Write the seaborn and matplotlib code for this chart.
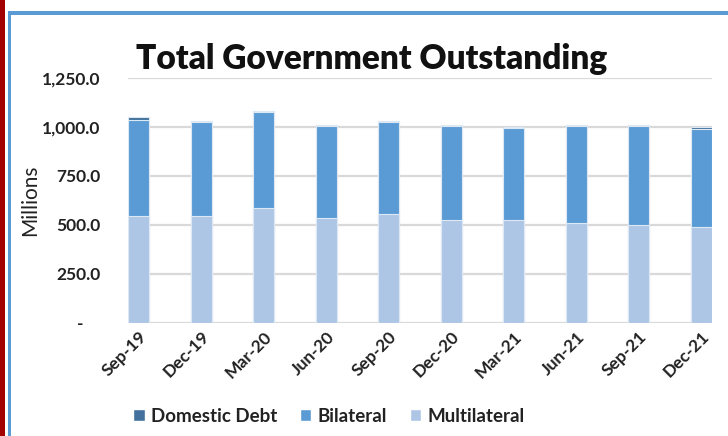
import matplotlib
matplotlib.use('Agg')
import numpy as np
import pandas as pd
import seaborn as sns
import matplotlib.pyplot as plt
from matplotlib.patches import Rectangle, Patch

# values (millions)
quarters = ['Sep-19', 'Dec-19', 'Mar-20', 'Jun-20', 'Sep-20',
            'Dec-20', 'Mar-21', 'Jun-21', 'Sep-21', 'Dec-21']
multilateral = [546, 546, 588, 534, 555, 526, 526, 512, 502, 491]
bilateral = [488, 479, 490, 469, 470, 480, 467, 495, 505, 501]
domestic = [18, 7, 5, 7, 7, 6, 5, 5, 5, 6]
yticks = [0, 250, 500, 750, 1000, 1250]

c_dom = '#41719C'
c_bil = '#5B9BD5'
c_mul = '#AEC6E6'

df = pd.DataFrame({'Quarter': quarters, 'Multilateral': multilateral,
                   'Bilateral': bilateral, 'Domestic Debt': domestic})
df['lvl_bil'] = df['Multilateral'] + df['Bilateral']
df['lvl_dom'] = df['lvl_bil'] + df['Domestic Debt']

sns.set_style('white')
plt.rcParams['font.family'] = ['Lato', 'DejaVu Sans']

fig = plt.figure(figsize=(7.28, 4.36), dpi=100)
ax = fig.add_axes([0.1758, 0.2592, 0.8022, 0.5619])

# stacked bars by overlaying cumulative totals
for col, color in [('lvl_dom', c_dom), ('lvl_bil', c_bil), ('Multilateral', c_mul)]:
    sns.barplot(data=df, x='Quarter', y=col, color=color, width=0.34, saturation=1,
                edgecolor='#DDE8F5', linewidth=0.8, ax=ax, zorder=3)

ax.set_xlim(-0.17, 9.17)
ax.set_ylim(0, 1250)
ax.set_yticks(yticks)
ax.set_yticklabels(['-    '] + [f'{v:,.1f}' for v in yticks[1:]],
                   fontsize=12.5, fontweight='bold', color='#222222')
ax.yaxis.grid(True, color='#D9D9D9', linewidth=1.6, zorder=0)
ax.set_axisbelow(True)
for s in ax.spines.values():
    s.set_visible(False)
ax.tick_params(axis='y', length=0, pad=20)
ax.tick_params(axis='x', length=0, pad=4)
plt.setp(ax.get_xticklabels(), rotation=45, ha='right', rotation_mode='anchor',
         fontsize=12.5, fontweight='bold', color='#222222')
ax.set_xlabel('')
ax.set_ylabel('Millions', fontsize=15, color='#222222')
ax.yaxis.set_label_coords(-0.15, 0.5)

fig.text(0.511, 0.865, 'Total Government Outstanding', ha='center', va='center',
         fontsize=24, fontweight='heavy', color='#111111')

handles = [Patch(facecolor=c_dom, label='Domestic Debt'),
           Patch(facecolor=c_bil, label='Bilateral'),
           Patch(facecolor=c_mul, label='Multilateral')]
leg = fig.legend(handles=handles, loc='center', bbox_to_anchor=(0.452, 0.045),
                 ncol=3, frameon=False, fontsize=13.5, handlelength=0.6,
                 handleheight=0.6, handletextpad=0.35, columnspacing=1.2)
for t in leg.get_texts():
    t.set_fontweight('bold')
    t.set_color('#222222')

# outer frame: red stripe and blue border
fig.patches.append(Rectangle((0, 0), 5 / 728, 1, transform=fig.transFigure,
                             facecolor='#A30000', edgecolor='none', zorder=10))
fig.patches.append(Rectangle((8 / 728, 0), 3 / 728, 1 - 12 / 436, transform=fig.transFigure,
                             facecolor='#5B9BD5', edgecolor='none', zorder=10))
fig.patches.append(Rectangle((8 / 728, 1 - 15 / 436), 1, 4 / 436, transform=fig.transFigure,
                             facecolor='#5B9BD5', edgecolor='none', zorder=10))

fig.savefig('out.png', dpi=100)
